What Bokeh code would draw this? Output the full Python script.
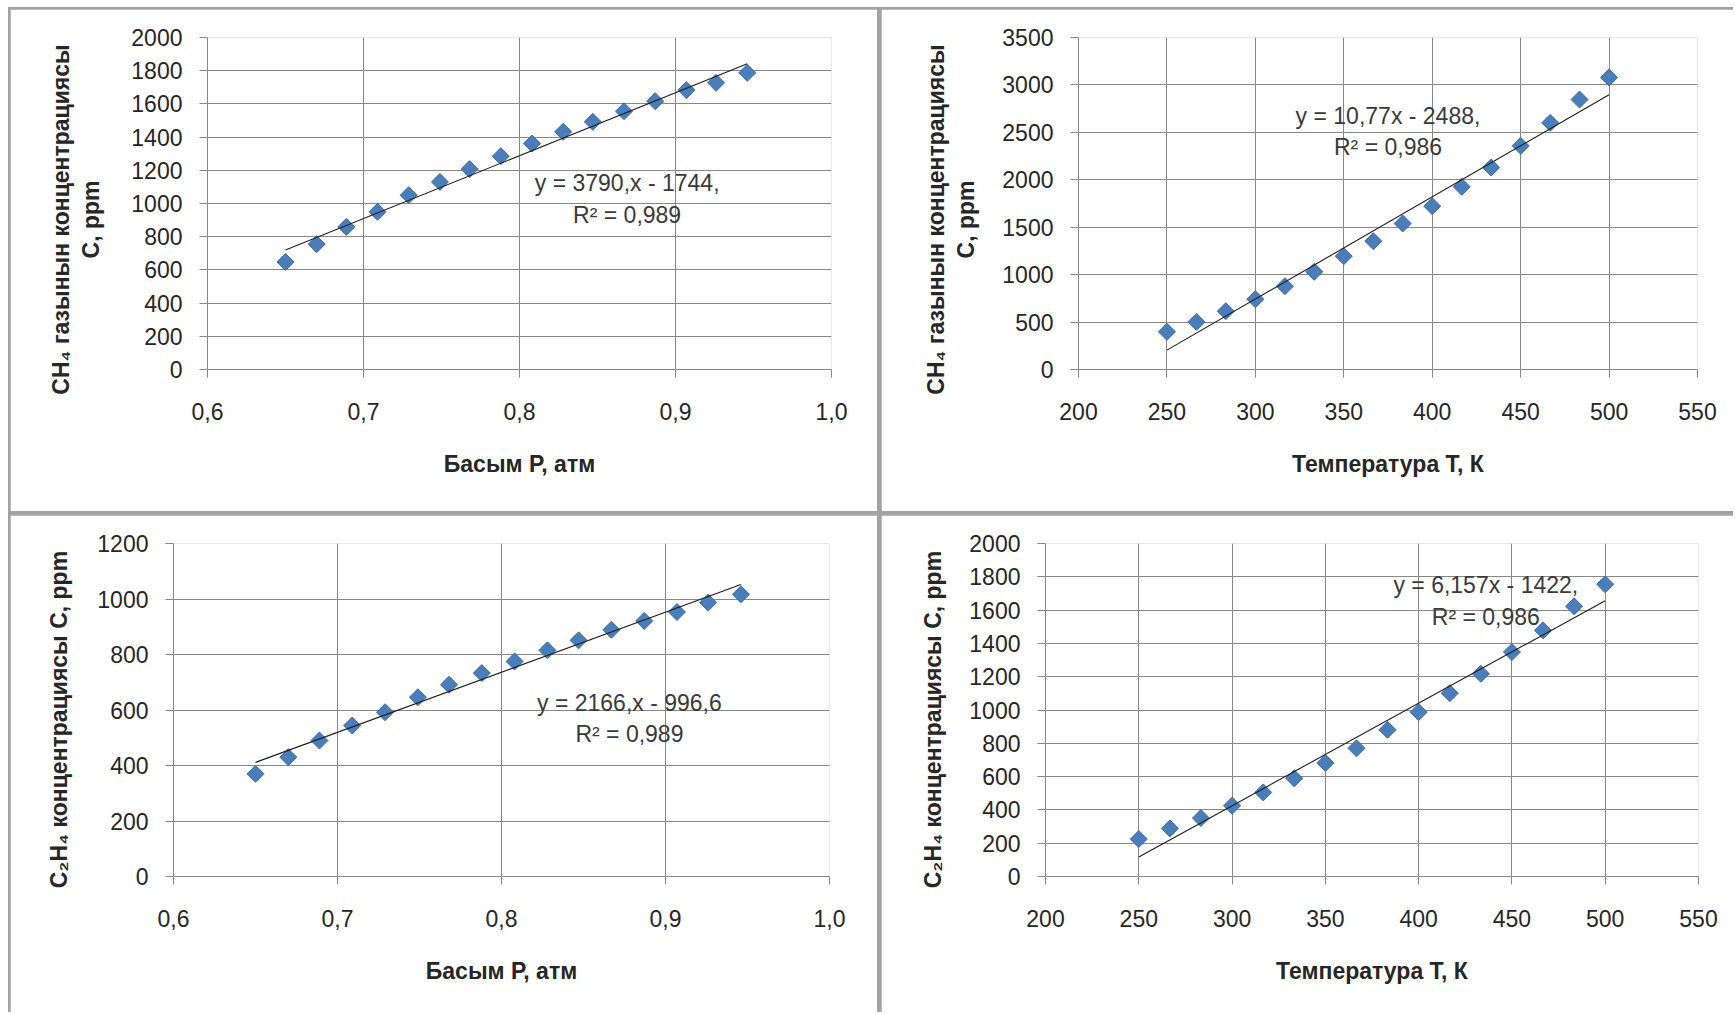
import math
from bokeh.plotting import figure
from bokeh.models import Range1d, FixedTicker, Label
from bokeh.layouts import row, column
from bokeh.embed import file_html
from bokeh.resources import INLINE

# ---------------- data ----------------
pressure = [0.650, 0.670, 0.689, 0.709, 0.729, 0.749, 0.768, 0.788,
            0.808, 0.828, 0.847, 0.867, 0.887, 0.907, 0.926, 0.946]
temperature = [250, 266.7, 283.3, 300, 316.7, 333.3, 350, 366.7,
               383.3, 400, 416.7, 433.3, 450, 466.7, 483.3, 500]
ch4_vs_p = [648, 755, 859, 950, 1050, 1130, 1207, 1285,
            1361, 1432, 1492, 1556, 1616, 1683, 1727, 1787]
ch4_vs_t = [397, 502, 615, 741, 878, 1030, 1195, 1353,
            1539, 1722, 1926, 2129, 2358, 2600, 2846, 3078]
c2h4_vs_p = [370, 430, 490, 544, 592, 646, 691, 733,
             775, 815, 851, 889, 921, 953, 987, 1017]
c2h4_vs_t = [225, 289, 351, 425, 505, 590, 682, 770,
             881, 987, 1101, 1218, 1348, 1478, 1623, 1755]

# trend line coefficients (slope, intercept) and their labels
fit_ch4_p = (3790, -1744)
fit_ch4_t = (10.77, -2488)
fit_c2h4_p = (2166, -996.6)
fit_c2h4_t = (6.157, -1422)
eq_ch4_p = ["y = 3790,x - 1744,", "R² = 0,989"]
eq_ch4_t = ["y = 10,77x - 2488,", "R² = 0,986"]
eq_c2h4_p = ["y = 2166,x - 996,6", "R² = 0,989"]
eq_c2h4_t = ["y = 6,157x - 1422,", "R² = 0,986"]

p_ticks = [0.6, 0.7, 0.8, 0.9, 1.0]
p_tick_labels = ["0,6", "0,7", "0,8", "0,9", "1,0"]
t_ticks = [200, 250, 300, 350, 400, 450, 500, 550]
t_tick_labels = ["200", "250", "300", "350", "400", "450", "500", "550"]
y_ticks_ch4_p = [0, 200, 400, 600, 800, 1000, 1200, 1400, 1600, 1800, 2000]
y_ticks_ch4_t = [0, 500, 1000, 1500, 2000, 2500, 3000, 3500]
y_ticks_c2h4_p = [0, 200, 400, 600, 800, 1000, 1200]
y_ticks_c2h4_t = [0, 200, 400, 600, 800, 1000, 1200, 1400, 1600, 1800, 2000]

x_title_p = "Басым P, атм"
x_title_t = "Температура T, К"
y_title_ch4 = ["CH₄ газынын концентрациясы", "С, ppm"]
y_title_c2h4 = ["C₂H₄ концентрациясы С, ppm"]

# ---------------- style ----------------
FONT = "Liberation Sans"
GRID = "#878787"
TXT = "#262626"
MARK_FILL = "#4a7ebb"
MARK_LINE = "#3d6ba6"
NBSP = "\u00a0"


def make_panel(xs, ys, xticks, xlabels, yticks, fit, eq, eq_pos, xtitle,
               ytitle_lines, ytitle_standoff, ytitle_pad, width, height, mb,
               margin):
    p = figure(width=width, height=height, title=None,
               x_range=Range1d(xticks[0], xticks[-1]),
               y_range=Range1d(yticks[0], yticks[-1]),
               output_backend="svg", toolbar_location=None,
               min_border_left=mb[0], min_border_right=mb[1],
               min_border_top=mb[2], min_border_bottom=mb[3],
               margin=margin)
    p.outline_line_color = None
    p.background_fill_color = "white"
    p.border_fill_color = "white"

    p.xaxis.ticker = FixedTicker(ticks=xticks)
    p.xaxis.major_label_overrides = {t: l for t, l in zip(xticks, xlabels)}
    p.yaxis.ticker = FixedTicker(ticks=yticks)
    p.xgrid.ticker = FixedTicker(ticks=xticks)
    p.ygrid.ticker = FixedTicker(ticks=yticks)
    for g in (p.xgrid, p.ygrid):
        g.grid_line_color = GRID
        g.grid_line_width = 1
    for ax in (p.xaxis, p.yaxis):
        ax.axis_line_color = GRID
        ax.major_tick_line_color = GRID
        ax.major_tick_out = 8
        ax.major_tick_in = 0
        ax.minor_tick_line_color = None
        ax.major_label_text_font = FONT
        ax.major_label_text_font_size = "23px"
        ax.major_label_text_color = TXT
        ax.axis_label_text_font = FONT
        ax.axis_label_text_font_size = "23px"
        ax.axis_label_text_font_style = "bold"
        ax.axis_label_text_color = TXT
    p.xaxis.major_label_standoff = 25
    p.yaxis.major_label_standoff = 17

    p.xaxis.axis_label = xtitle
    p.xaxis.axis_label_standoff = 28
    # the reference title sits a little below the frame centre; pad the
    # upper end of each rotated line with no-break spaces to shift it down
    p.yaxis.axis_label = "\n".join(l + NBSP * ytitle_pad for l in ytitle_lines)
    p.yaxis.axis_label_standoff = ytitle_standoff
    p.yaxis.axis_label_text_line_height = 1.17

    p.scatter(xs, ys, marker="square", size=12, angle=math.pi / 4,
              fill_color=MARK_FILL, line_color=MARK_LINE, line_width=1)
    x0, x1 = xs[0], xs[-1]
    p.line([x0, x1], [fit[0] * x0 + fit[1], fit[0] * x1 + fit[1]],
           line_color="#1e1e1e", line_width=1.1)

    # trend line equation
    for i, line in enumerate(eq):
        p.add_layout(Label(x=eq_pos[0], y=eq_pos[1][i], text=line,
                           text_font=FONT, text_font_size="23px",
                           text_color="#3a3a3a", text_align="center",
                           text_baseline="middle"))
    return p


p1 = make_panel(pressure, ch4_vs_p, p_ticks, p_tick_labels, y_ticks_ch4_p,
                fit_ch4_p, eq_ch4_p, (0.869, [1121, 929]), x_title_p,
                y_title_ch4, 24, 5,
                867, 502, (197, 46, 28, 142), (2, 2, 2, 2))
p2 = make_panel(temperature, ch4_vs_t, t_ticks, t_tick_labels, y_ticks_ch4_t,
                fit_ch4_t, eq_ch4_t, (375, [2670, 2347]), x_title_t,
                y_title_ch4, 20, 5,
                852, 502, (197, 36, 28, 142), (2, 0, 2, 2))
p3 = make_panel(pressure, c2h4_vs_p, p_ticks, p_tick_labels, y_ticks_c2h4_p,
                fit_c2h4_p, eq_c2h4_p, (0.878, [626, 513]), x_title_p,
                y_title_c2h4, 22, 3,
                867, 497, (163, 48, 28, 136), (2, 2, 0, 2))
p4 = make_panel(temperature, c2h4_vs_t, t_ticks, t_tick_labels, y_ticks_c2h4_t,
                fit_c2h4_t, eq_c2h4_t, (436, [1749, 1559]), x_title_t,
                y_title_c2h4, 20, 3,
                852, 497, (164, 35, 28, 136), (2, 0, 0, 2))

layout = column(row(p1, p2), row(p3, p4), margin=(7, 0, 0, 8),
                styles={"background-color": "#a3a3a3"})

open("out.html", "w").write(file_html(layout, INLINE))
